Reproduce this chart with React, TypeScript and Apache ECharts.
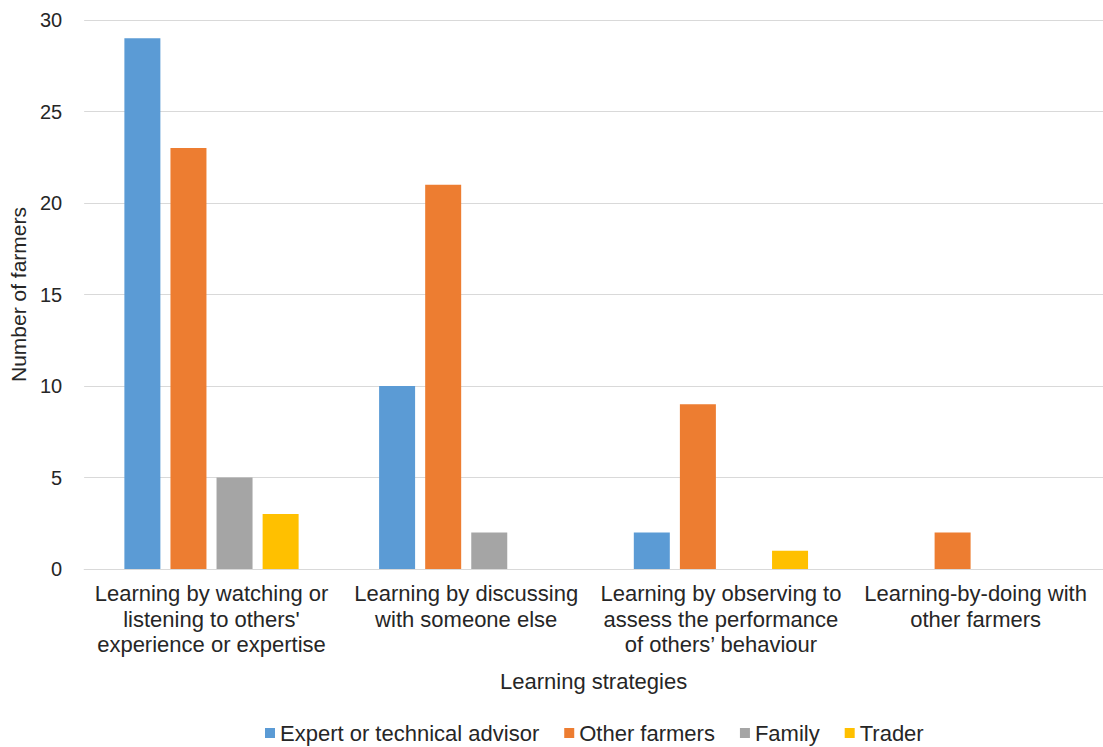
import React, { useEffect, useRef } from "react";
import * as echarts from "echarts";

const categories = [
  "Learning by watching or\nlistening to others'\nexperience or expertise",
  "Learning by discussing\nwith someone else",
  "Learning by observing to\nassess the performance\nof others\u2019 behaviour",
  "Learning-by-doing with\nother farmers",
];

const expertAdvisor = [29, 10, 2, 0];
const otherFarmers = [23, 21, 9, 2];
const family = [5, 2, 0, 0];
const trader = [3, 0, 1, 0];

const seriesNames = ["Expert or technical advisor", "Other farmers", "Family", "Trader"];
const seriesColors = ["#5B9BD5", "#ED7D31", "#A5A5A5", "#FFC000"];
const yTicks = [0, 5, 10, 15, 20, 25, 30];

const FONT = "'Liberation Sans', Arial, sans-serif";
const TEXT = "#262626";

export default function App() {
  const ref = useRef<HTMLDivElement>(null);

  useEffect(() => {
    if (!ref.current) return;
    const chart = echarts.init(ref.current, null, { renderer: "svg" });
    const values = [expertAdvisor, otherFarmers, family, trader];
    chart.setOption({
      animation: false,
      backgroundColor: "#ffffff",
      textStyle: { fontFamily: FONT },
      grid: { left: 84, top: 20, width: 1023, height: 549, containLabel: false },
      legend: {
        top: 717,
        left: 260,
        itemWidth: 10,
        itemHeight: 10,
        itemGap: 25,
        icon: "rect",
        textStyle: { fontFamily: FONT, fontSize: 22, color: TEXT },
        data: seriesNames,
      },
      xAxis: {
        type: "category",
        data: categories,
        name: "Learning strategies",
        nameLocation: "middle",
        nameGap: 101,
        nameTextStyle: { fontFamily: FONT, fontSize: 22, color: TEXT },
        axisLine: { lineStyle: { color: "#D9D9D9", width: 1 } },
        axisTick: { show: false },
        axisLabel: {
          interval: 0,
          margin: 12,
          fontFamily: FONT,
          fontSize: 22,
          lineHeight: 25.5,
          color: TEXT,
        },
      },
      yAxis: {
        type: "value",
        min: yTicks[0],
        max: yTicks[yTicks.length - 1],
        interval: 5,
        name: "Number of farmers",
        nameLocation: "middle",
        nameGap: 55,
        nameTextStyle: { fontFamily: FONT, fontSize: 21, color: TEXT },
        axisLine: { show: false },
        axisTick: { show: false },
        splitLine: { lineStyle: { color: "#D9D9D9", width: 1 } },
        axisLabel: { margin: 22, fontFamily: FONT, fontSize: 20, color: TEXT },
      },
      series: seriesNames.map((name, i) => ({
        name,
        type: "bar",
        data: values[i],
        barWidth: 36,
        barGap: "28%",
        itemStyle: { color: seriesColors[i] },
      })),
    });
    return () => chart.dispose();
  }, []);

  return (
    <div
      ref={ref}
      style={{ position: "fixed", left: 0, top: 0, width: 1103, height: 747, background: "#fff" }}
    />
  );
}
